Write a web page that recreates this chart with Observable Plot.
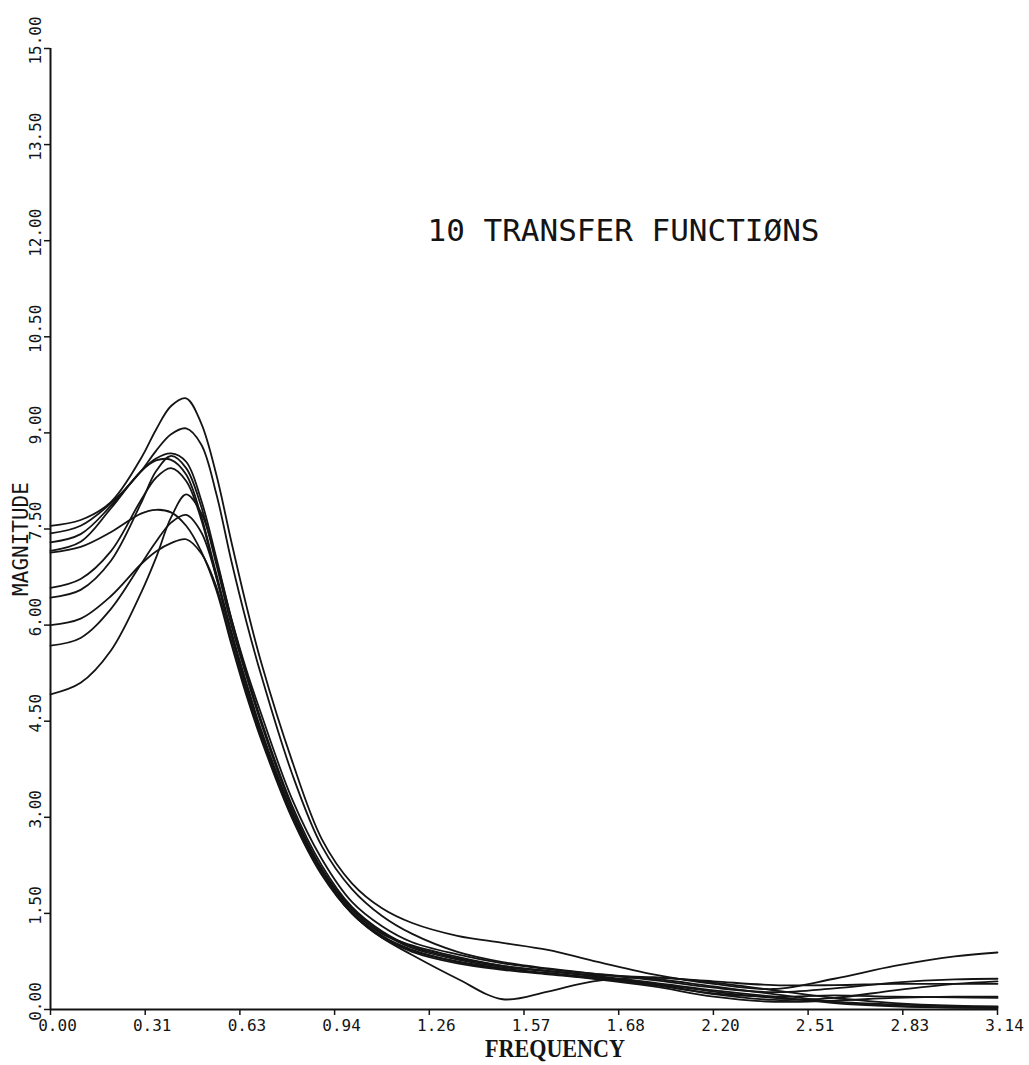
<!DOCTYPE html>
<html>
<head>
<meta charset="utf-8">
<script src="https://cdn.jsdelivr.net/npm/d3@7"></script>
<script src="https://cdn.jsdelivr.net/npm/@observablehq/plot@0.6"></script>
<style>
  html, body { margin: 0; padding: 0; background: #fff; }
</style>
</head>
<body>
<div id="chart"></div>
<script>
// ---- data ----
const freq = [0, 0.1, 0.2, 0.3, 0.35, 0.4, 0.45, 0.5, 0.55, 0.6, 0.65, 0.7, 0.8, 0.9, 1.0, 1.1,
              1.2, 1.35, 1.5, 1.65, 1.8, 2.0, 2.2, 2.4, 2.6, 2.8, 3.0, 3.14159];

const tf1  = [7.55,7.64,7.92,8.6,9.05,9.42,9.54,9.15,8.35,7.3, 6.3,5.4,3.9,2.66,1.97,1.58, 1.35,1.15,1.04,0.93,0.76,0.55,0.40,0.32,0.48,0.68,0.83,0.89];
const tf2  = [7.43,7.55,7.9,8.4,8.72,8.98,9.07,8.82,8.05,7.0, 6.05,5.2,3.7,2.55,1.88,1.46, 1.18,0.9,0.74,0.64,0.56,0.46,0.34,0.27,0.33,0.42,0.47,0.48];
const tf3  = [7.29,7.42,7.86,8.4,8.6,8.68,8.55,7.95,7.05,6.1, 5.25,4.5,3.2,2.25,1.6,1.22, 0.98,0.80,0.68,0.60,0.52,0.40,0.24,0.15,0.18,0.30,0.40,0.44];
const tf4  = [7.16,7.3,7.82,8.4,8.57,8.58,8.35,7.7,6.8,5.9, 5.1,4.35,3.1,2.18,1.55,1.18, 1.0,0.82,0.68,0.60,0.54,0.50,0.44,0.38,0.38,0.40,0.40,0.40];
const tf5  = [7.13,7.22,7.45,7.74,7.8,7.76,7.55,7.15,6.55,5.7, 4.9,4.2,3.0,2.1,1.5,1.12, 0.92,0.75,0.64,0.57,0.50,0.40,0.28,0.18,0.12,0.08,0.05,0.04];
const tf6  = [6.58,6.72,7.15,7.95,8.3,8.45,8.25,7.65,6.75,5.85, 5.05,4.3,3.05,2.15,1.52,1.15, 0.93,0.74,0.63,0.56,0.49,0.38,0.25,0.20,0.22,0.20,0.19,0.18];
const tf7  = [6.43,6.55,7.0,7.9,8.4,8.64,8.45,7.85,6.95,6.0, 5.2,4.45,3.15,2.2,1.58,1.2, 0.96,0.78,0.66,0.60,0.53,0.42,0.30,0.20,0.10,0.05,0.03,0.03];
const tf8  = [6.0,6.1,6.45,6.95,7.15,7.28,7.34,7.12,6.6,5.75, 4.95,4.25,3.02,2.12,1.5,1.13, 0.90,0.72,0.62,0.55,0.48,0.36,0.20,0.12,0.14,0.18,0.20,0.20];
const tf9  = [5.68,5.8,6.25,6.95,7.3,7.6,7.72,7.45,6.75,5.85, 5.0,4.3,3.05,2.15,1.5,1.12, 0.85,0.48,0.16,0.28,0.44,0.50,0.42,0.30,0.18,0.10,0.06,0.05];
const tf10 = [4.92,5.1,5.6,6.5,7.05,7.68,8.04,7.75,7.0,6.1, 5.3,4.6,3.3,2.35,1.68,1.3, 1.05,0.86,0.72,0.63,0.56,0.48,0.36,0.24,0.12,0.06,0.03,0.02];

const seriesNames = ["TF1","TF2","TF3","TF4","TF5","TF6","TF7","TF8","TF9","TF10"];
const seriesValues = [tf1, tf2, tf3, tf4, tf5, tf6, tf7, tf8, tf9, tf10];

const xTicks = [0, 0.1, 0.2, 0.3, 0.4, 0.5, 0.6, 0.7, 0.8, 0.9, 1.0].map(k => k * Math.PI);
const xTickLabels = ["0.00","0.31","0.63","0.94","1.26","1.57","1.68","2.20","2.51","2.83","3.14"];
const yTicks = [0, 1.5, 3, 4.5, 6, 7.5, 9, 10.5, 12, 13.5, 15];
const yTickLabels = ["0.00","1.50","3.00","4.50","6.00","7.50","9.00","10.50","12.00","13.50","15.00"];

const titleText = "10 TRANSFER FUNCTIØNS";
const xLabel = "FREQUENCY";
const yLabel = "MAGNITUDE";

// ---- long table ----
const rows = [];
seriesValues.forEach((vals, s) => {
  vals.forEach((v, i) => rows.push({id: seriesNames[s], f: freq[i], v}));
});

const ink = "#141414";
const chart = Plot.plot({
  width: 1029,
  height: 1065,
  marginLeft: 50,
  marginRight: 32,
  marginTop: 48,
  marginBottom: 56,
  x: {domain: [0, Math.PI], axis: null},
  y: {domain: [0, 15], axis: null},
  style: {background: "#fff", fontFamily: "'DejaVu Sans Mono', monospace", color: ink},
  marks: [
    Plot.line(rows, {x: "f", y: "v", z: "id", curve: "catmull-rom", stroke: ink, strokeWidth: 1.8}),
    Plot.ruleX([0], {stroke: ink, strokeWidth: 2}),
    Plot.ruleY([0], {stroke: ink, strokeWidth: 2}),
    Plot.axisX(xTicks, {tickSize: 6, tickFormat: () => "", label: null, stroke: ink, strokeWidth: 1.5}),
    Plot.axisY(yTicks, {tickSize: 6, tickFormat: () => "", label: null, stroke: ink, strokeWidth: 1.5}),
    Plot.text(xTicks, {x: d => d, text: (d, i) => xTickLabels[i], frameAnchor: "bottom",
                       dx: 7, dy: 16, textAnchor: "middle", lineAnchor: "middle", fontSize: 16, fill: ink}),
    Plot.text(yTicks, {y: d => d, text: (d, i) => yTickLabels[i], frameAnchor: "left",
                       rotate: -90, dx: -15, dy: -8, textAnchor: "middle", lineAnchor: "middle",
                       fontSize: 16, fill: ink}),
    Plot.text([titleText], {text: d => d, frameAnchor: "top-left", dx: 573, dy: 183,
                            textAnchor: "middle", lineAnchor: "middle", fontSize: 31, fill: ink}),
    Plot.text([yLabel], {text: d => d, frameAnchor: "left", dx: -29, dy: 10, rotate: -90,
                         textAnchor: "middle", lineAnchor: "middle", fontSize: 21, fill: ink}),
    Plot.text([xLabel], {text: d => d, frameAnchor: "bottom", dx: 31, dy: 39,
                         textAnchor: "middle", lineAnchor: "middle", fontSize: 26, fontWeight: "bold",
                         fontFamily: "'Liberation Serif', serif", fill: ink})
  ]
});
document.getElementById("chart").appendChild(chart);
// condense the bold typewriter-like axis title to the reference width
chart.querySelectorAll("text").forEach(t => {
  if (t.textContent === xLabel) {
    t.setAttribute("textLength", "140");
    t.setAttribute("lengthAdjust", "spacingAndGlyphs");
  }
});
</script>
</body>
</html>
